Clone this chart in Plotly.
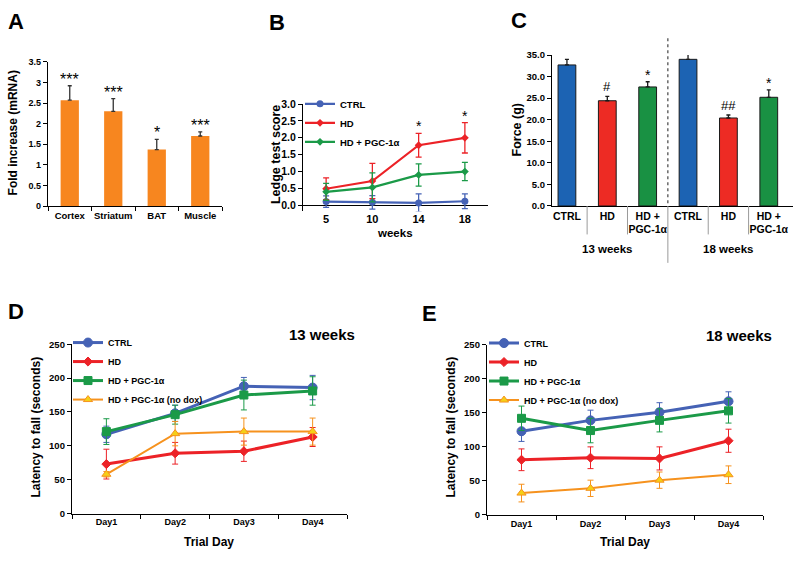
import plotly.graph_objects as go

W, H = 800, 561
def px(x): return x / W
def py(y): return 1 - y / H

FONT = "Arial, Liberation Sans, sans-serif"

# ---------------- Panel A data ----------------
a_tissues = ["Cortex", "Striatum", "BAT", "Muscle"]
a_fold = [2.57, 2.30, 1.37, 1.70]
a_err = [0.35, 0.31, 0.25, 0.10]
a_sig = ["***", "***", "*", "***"]

# ---------------- Panel B data ----------------
b_weeks = ["5", "10", "14", "18"]
b_ctrl = [0.11, 0.09, 0.07, 0.12]
b_ctrl_err = [0.17, 0.20, 0.27, 0.22]
b_hd = [0.49, 0.72, 1.78, 2.00]
b_hd_err = [0.32, 0.52, 0.35, 0.45]
b_pgc = [0.40, 0.53, 0.90, 1.00]
b_pgc_err = [0.25, 0.43, 0.33, 0.27]
b_sig = ["", "", "*", "*"]

# ---------------- Panel C data ----------------
c_ages = ["13 weeks", "18 weeks"]
c_groups = ["CTRL", "HD", "HD +<br>PGC-1α"]
c_force_13 = [32.7, 24.4, 27.6]
c_err_13 = [1.3, 1.0, 1.2]
c_sig_13 = ["", "#", "*"]
c_force_18 = [34.0, 20.4, 25.2]
c_err_18 = [1.6, 0.7, 1.7]
c_sig_18 = ["", "##", "*"]

# ---------------- Panel D data (13 weeks) ----------------
days = ["Day1", "Day2", "Day3", "Day4"]
d_ctrl = [117, 148, 188, 186]
d_ctrl_err = [12, 12, 13, 18]
d_hd = [73, 89, 92, 113]
d_hd_err = [22, 16, 15, 14]
d_pgc = [121, 146, 175, 181]
d_pgc_err = [19, 14, 22, 21]
d_nodox = [58, 118, 121, 121]
d_nodox_err = [4, 18, 20, 20]

# ---------------- Panel E data (18 weeks) ----------------
e_ctrl = [123, 139, 151, 167]
e_ctrl_err = [15, 15, 14, 14]
e_hd = [81, 84, 83, 109]
e_hd_err = [16, 16, 17, 17]
e_pgc = [142, 124, 139, 153]
e_pgc_err = [18, 18, 17, 18]
e_nodox = [32, 39, 51, 59]
e_nodox_err = [13, 12, 12, 13]

series_names = ["CTRL", "HD", "HD + PGC-1α", "HD + PGC-1α (no dox)"]

A_COLOR = "#f7861f"
C_COLORS = ["#1c63b3", "#ed2b24", "#199143"]
L_BLUE, L_RED, L_GREEN, L_ORANGE, L_YELLOW = "#4562b5", "#ec2227", "#1b9a48", "#f6921e", "#f5d017"

fig = go.Figure()

# ---------- A ----------
fig.add_trace(go.Bar(
    x=a_tissues, y=a_fold, width=0.42, xaxis="x", yaxis="y", showlegend=False,
    marker=dict(color=A_COLOR, line=dict(width=0)),
    error_y=dict(type="data", array=a_err, arrayminus=[0] * len(a_err), symmetric=False,
                 color="#333333", thickness=1.3, width=2)))

# ---------- B ----------
def b_trace(y, err, name, color, symbol, size):
    return go.Scatter(
        x=b_weeks, y=y, name=name, mode="lines+markers", xaxis="x2", yaxis="y2", legend="legend",
        line=dict(color=color, width=2.2),
        marker=dict(symbol=symbol, size=size, color=color, line=dict(width=0)),
        error_y=dict(type="data", array=err, color=color, thickness=1.3, width=3))

fig.add_trace(b_trace(b_ctrl, b_ctrl_err, series_names[0], L_BLUE, "circle", 7))
fig.add_trace(b_trace(b_hd, b_hd_err, series_names[1], L_RED, "diamond", 6))
fig.add_trace(b_trace(b_pgc, b_pgc_err, series_names[2], L_GREEN, "diamond", 6))

# ---------- C ----------
c_x, c_y, c_e, c_col, c_lab, c_sig = [], [], [], [], [], []
for age, vals, errs, sigs in [(c_ages[0], c_force_13, c_err_13, c_sig_13),
                              (c_ages[1], c_force_18, c_err_18, c_sig_18)]:
    for g, v, e, s, col in zip(c_groups, vals, errs, sigs, C_COLORS):
        c_x.append(age + "|" + g)
        c_y.append(v)
        c_e.append(e)
        c_col.append(col)
        c_lab.append(g)
        c_sig.append(s)

fig.add_trace(go.Bar(
    x=c_x, y=c_y, width=0.44, xaxis="x3", yaxis="y3", showlegend=False,
    marker=dict(color=c_col, line=dict(color="#1a1a1a", width=1)),
    error_y=dict(type="data", array=c_e, arrayminus=[0] * len(c_e), symmetric=False,
                 color="#1a1a1a", thickness=1.3, width=2)))

# ---------- D & E ----------
def de_trace(y, err, name, color, symbol, size, xa, ya, leg, fill=None, lw=3):
    return go.Scatter(
        x=days, y=y, name=name, mode="lines+markers", xaxis=xa, yaxis=ya, legend=leg,
        line=dict(color=color, width=lw),
        marker=dict(symbol=symbol, size=size, color=fill or color, line=dict(color=color, width=1)),
        error_y=dict(type="data", array=err, color=color, thickness=1, width=3))

for (xa, ya, leg, ctrl, ce, hd, he, pgc, pe, nd, ne) in [
        ("x4", "y4", "legend2", d_ctrl, d_ctrl_err, d_hd, d_hd_err, d_pgc, d_pgc_err, d_nodox, d_nodox_err),
        ("x5", "y5", "legend3", e_ctrl, e_ctrl_err, e_hd, e_hd_err, e_pgc, e_pgc_err, e_nodox, e_nodox_err)]:
    fig.add_trace(de_trace(ctrl, ce, series_names[0], L_BLUE, "circle", 9, xa, ya, leg))
    fig.add_trace(de_trace(hd, he, series_names[1], L_RED, "diamond", 7, xa, ya, leg))
    fig.add_trace(de_trace(pgc, pe, series_names[2], L_GREEN, "square", 8, xa, ya, leg))
    fig.add_trace(de_trace(nd, ne, series_names[3], L_ORANGE, "triangle-up", 8, xa, ya, leg,
                           fill=L_YELLOW, lw=2))

# ---------- axes ----------
def tf(size, bold=True):
    return dict(family=FONT, size=size, color="black", weight="bold" if bold else "normal")

axis_common = dict(showgrid=False, zeroline=False, linecolor="black", linewidth=1.3,
                   ticks="outside", tickcolor="black", ticklen=4, tickwidth=1.2, fixedrange=True)

layout = dict(
    width=W, height=H, margin=dict(l=0, r=0, t=0, b=0),
    paper_bgcolor="white", plot_bgcolor="white", bargap=0.5,
    font=dict(family=FONT, color="black"),
    # A
    xaxis=dict(domain=[px(48), px(222)], anchor="y", type="category", range=[-0.5, 3.5],
               showline=True, tickson="boundaries", tickangle=0, tickfont=tf(9.5), **axis_common),
    yaxis=dict(domain=[py(204), py(57)], anchor="x", range=[0, 3.5], dtick=0.5, tick0=0,
               showline=True, tickfont=tf(9), **axis_common),
    # B
    xaxis2=dict(domain=[px(303), px(488)], anchor="y2", type="category", range=[-0.5, 3.5],
                showline=False, showgrid=False, zeroline=False, ticks="", tickangle=0,
                tickfont=tf(11), fixedrange=True),
    yaxis2=dict(domain=[py(209.5), py(100)], anchor="x2", range=[-0.18, 3.0], dtick=0.5, tick0=0,
                tickformat=".1f", showline=True, tickfont=tf(10.5),
                **{**axis_common, "zeroline": True}, zerolinecolor="black", zerolinewidth=1.3),
    # C
    xaxis3=dict(domain=[px(552), px(793)], anchor="y3", type="category", range=[-0.37, 5.6],
                showline=True, linecolor="black", linewidth=1.3, showgrid=False, zeroline=False,
                ticks="", tickangle=0, tickmode="array", tickvals=c_x, ticktext=c_lab,
                tickfont=tf(10.5), fixedrange=True),
    yaxis3=dict(domain=[py(204), py(50)], anchor="x3", range=[0, 35], dtick=5, tick0=0,
                tickformat=".1f", showline=True, tickfont=tf(9.5), **axis_common),
    # D
    xaxis4=dict(domain=[px(72), px(347)], anchor="y4", type="category", range=[-0.5, 3.5],
                showline=True, tickson="boundaries", tickangle=0, tickfont=tf(9), **axis_common),
    yaxis4=dict(domain=[py(517.7), py(345)], anchor="x4", range=[0, 250], dtick=50, tick0=0,
                showline=True, tickfont=tf(9.5), **axis_common),
    # E
    xaxis5=dict(domain=[px(487), px(763)], anchor="y5", type="category", range=[-0.5, 3.5],
                showline=True, tickson="boundaries", tickangle=0, tickfont=tf(9), **axis_common),
    yaxis5=dict(domain=[py(519), py(345.7)], anchor="x5", range=[0, 250], dtick=50, tick0=0,
                showline=True, tickfont=tf(9.5), **axis_common),
    legend=dict(x=px(300), y=py(85), xanchor="left", yanchor="top", bgcolor="rgba(0,0,0,0)",
                font=tf(9.5), itemwidth=30, borderwidth=0, tracegroupgap=0),
    legend2=dict(x=px(68), y=py(328.5), xanchor="left", yanchor="top", bgcolor="rgba(0,0,0,0)",
                 font=tf(9), itemwidth=30, borderwidth=0, tracegroupgap=0),
    legend3=dict(x=px(484), y=py(329), xanchor="left", yanchor="top", bgcolor="rgba(0,0,0,0)",
                 font=tf(9), itemwidth=30, borderwidth=0, tracegroupgap=0),
)
fig.update_layout(**layout)

ann = []
def text(x, y, s, size, bold=True, angle=0, xref="paper", yref="paper", **kw):
    d = dict(x=x, y=y, text=s, xref=xref, yref=yref, showarrow=False, textangle=angle,
             font=tf(size, bold), xanchor="center", yanchor="middle")
    d.update(kw)
    ann.append(d)

# panel letters
for letter, (lx, ly) in {"A": (16, 16), "B": (277, 17), "C": (519, 15),
                         "D": (16, 312), "E": (429, 314)}.items():
    text(px(lx), py(ly), letter, 22)

# axis titles
text(px(13), py(130), "Fold increase (mRNA)", 12, angle=-90)
text(px(276), py(152), "Ledge test score", 12.5, angle=-90)
text(px(395), py(232), "weeks", 11.5)
text(px(517), py(127), "Force (g)", 12.5, angle=-90)
text(px(36), py(430), "Latency to fall (seconds)", 12, angle=-90)
text(px(451), py(430), "Latency to fall (seconds)", 12, angle=-90)
text(px(209), py(547), "Trial Day", 12)
text(px(625), py(547), "Trial Day", 12)
text(px(322), py(335), "13 weeks", 15)
text(px(739), py(336), "18 weeks", 15)

# significance marks
for i, (v, e, s) in enumerate(zip(a_fold, a_err, a_sig)):
    text(i, v + e, s, 16, bold=False, xref="x", yref="y", yanchor="bottom", yshift=-4)
for i, (v, e, s) in enumerate(zip(b_hd, b_hd_err, b_sig)):
    if s:
        text(i, v + e, s, 14, bold=False, xref="x2", yref="y2", yanchor="bottom", yshift=-3)
for i, (v, e, s) in enumerate(zip(c_y, c_e, c_sig)):
    if s:
        sz = 13 if "#" in s else 14
        text(i, v + e, s, sz, bold=False, xref="x3", yref="y3", yanchor="bottom",
             yshift=(0 if "#" in s else -3))

# C group labels
text(1, py(248), c_ages[0], 11.5, xref="x3")
text(4, py(248), c_ages[1], 11.5, xref="x3")

fig.update_layout(annotations=ann)

# C separators
shapes = []
for xv in [0.5, 1.5, 3.5, 4.5]:
    shapes.append(dict(type="line", xref="x3", yref="paper", x0=xv, x1=xv, y0=py(204), y1=py(233),
                       line=dict(color="#9a9a9a", width=1)))
shapes.append(dict(type="line", xref="x3", yref="paper", x0=2.5, x1=2.5, y0=py(204), y1=py(262),
                   line=dict(color="#9a9a9a", width=1)))
shapes.append(dict(type="line", xref="x3", yref="paper", x0=2.5, x1=2.5, y0=py(33), y1=py(204),
                   line=dict(color="#444444", width=1.2, dash="dot")))
fig.update_layout(shapes=shapes)

fig.write_html("out.html", config={"displayModeBar": False},
               post_script="document.body.style.margin='0px';")
